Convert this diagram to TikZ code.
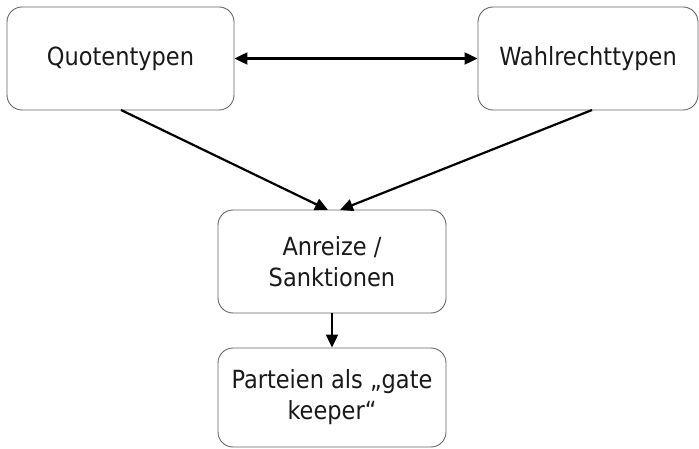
\documentclass[tikz,border=0pt]{standalone}
\usepackage{fontspec}
\setmainfont{DejaVu Sans Condensed}
\usetikzlibrary{arrows.meta}
\begin{document}
\begin{tikzpicture}[x=1pt,y=-1pt,
  box/.style={draw=black!60, line width=0.9pt, rounded corners=15pt, align=center, inner sep=0pt, font=\fontsize{25}{31}\selectfont, text=black!90},
  tip/.style={Triangle[length=13pt,width=12pt]},
  conn/.style={line width=2.2pt, -{Triangle[length=13pt,width=12pt]}}]
\useasboundingbox (0,0) rectangle (699,449);
\node[box, minimum width=227pt, minimum height=103pt] (q) at (120.5,58.5) {Quotentypen};
\node[box, minimum width=220pt, minimum height=103pt] (w) at (588,58.5) {Wahlrechttypen};
\node[box, minimum width=228pt, minimum height=103pt] (a) at (332,261.5) {Anreize /\\Sanktionen};
\node[box, minimum width=228pt, minimum height=99pt] (p) at (332,397.5) {Parteien als „gate\\keeper“};
\coordinate (qb) at (121,110);
\coordinate (wb) at (592,110);
\coordinate (at1) at (328,210);
\coordinate (at2) at (340,210);
\draw[line width=2.2pt, {Triangle[length=13pt,width=12pt]}-{Triangle[length=13pt,width=12pt]}] (q.east) -- (w.west);
\draw[conn] (qb) -- (at1);
\draw[conn] (wb) -- (at2);
\draw[conn] (a.south) -- (p.north);
\end{tikzpicture}
\end{document}
